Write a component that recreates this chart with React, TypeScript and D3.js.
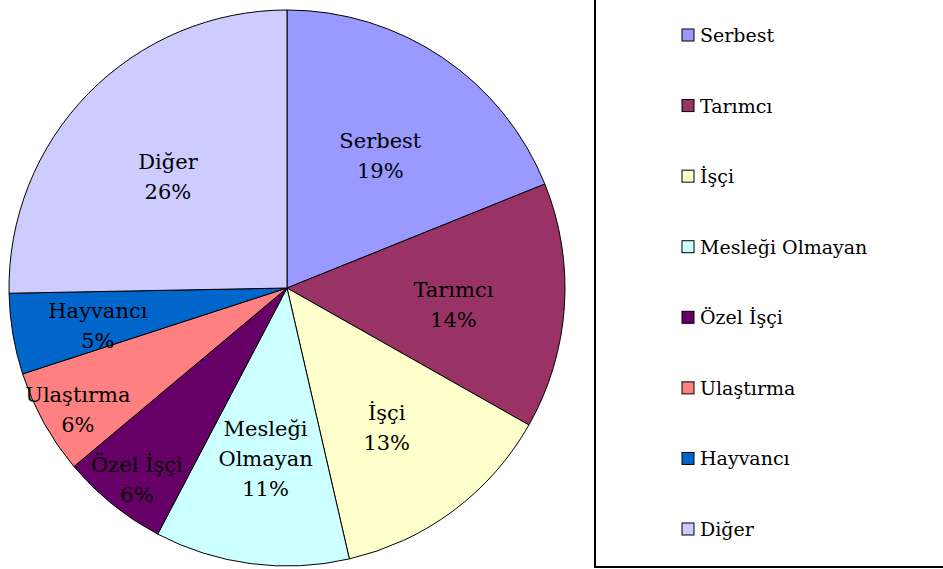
import React from "react";
import * as d3 from "d3";

const categories = ["Serbest", "Tarımcı", "İşçi", "Mesleği Olmayan", "Özel İşçi", "Ulaştırma", "Hayvancı", "Diğer"];
const labelLines = [["Serbest"], ["Tarımcı"], ["İşçi"], ["Mesleği", "Olmayan"], ["Özel İşçi"], ["Ulaştırma"], ["Hayvancı"], ["Diğer"]];
const values = [18.9, 14.3, 13.2, 11.3, 6.2, 6.1, 4.7, 25.3];
const percentLabels = ["19%", "14%", "13%", "11%", "6%", "6%", "5%", "26%"];
const colors = ["#9999FF", "#993366", "#FFFFCC", "#CCFFFF", "#660066", "#FF8080", "#0066CC", "#CCCCFF"];

const width = 943;
const height = 569;
const font = "'DejaVu Serif', 'Liberation Serif', serif";

const App = () => {
    const cx = 287;
    const cy = 288;
    const radius = 278;

    const pie = d3.pie<number>().value((d) => d).sort(null);
    const arcs = pie(values);
    const arc = d3.arc<d3.PieArcDatum<number>>().innerRadius(0).outerRadius(radius);
    // small slices get their labels pushed out towards the rim
    const labelArc = (d: d3.PieArcDatum<number>) => {
        const f = d.data < 5 ? 0.69 : d.data < 10 ? 0.86 : 0.6;
        const r = radius * f;
        return d3.arc<d3.PieArcDatum<number>>().innerRadius(r).outerRadius(r).centroid(d);
    };

    const legendY = d3.scalePoint<string>().domain(categories).range([35, 529]);

    return (
        <div style={{ position: "fixed", left: 0, top: 0 }}>
            <svg width={width} height={height} style={{ display: "block" }}>
                <rect width={width} height={height} fill="#fff" />
                <g transform={`translate(${cx},${cy})`}>
                    {arcs.map((d, i) => (
                        <path key={i} d={arc(d) || ""} fill={colors[i]} stroke="#000" strokeWidth={1} />
                    ))}
                    {arcs.map((d, i) => {
                        const [x, y] = labelArc(d);
                        const lines = [...labelLines[i], percentLabels[i]];
                        const lh = 30;
                        const y0 = y + 6 - ((lines.length - 1) * lh) / 2;
                        return (
                            <text key={i} x={x} y={y0} textAnchor="middle" dominantBaseline="central"
                                fontFamily={font} fontSize={21} fill="#000">
                                {lines.map((l, j) => (
                                    <tspan key={j} x={x} y={y0 + j * lh}>{l}</tspan>
                                ))}
                            </text>
                        );
                    })}
                </g>
                <rect x={595} y={-2} width={360} height={569} fill="none" stroke="#000" strokeWidth={2} />
                {categories.map((c, i) => (
                    <g key={c} transform={`translate(682,${legendY(c)})`}>
                        <rect x={0} y={-6} width={12} height={12} fill={colors[i]} stroke="#000" strokeWidth={1} />
                        <text x={18} y={0} dominantBaseline="central" fontFamily={font} fontSize={19} fill="#000">{c}</text>
                    </g>
                ))}
            </svg>
        </div>
    );
};

export default App;
